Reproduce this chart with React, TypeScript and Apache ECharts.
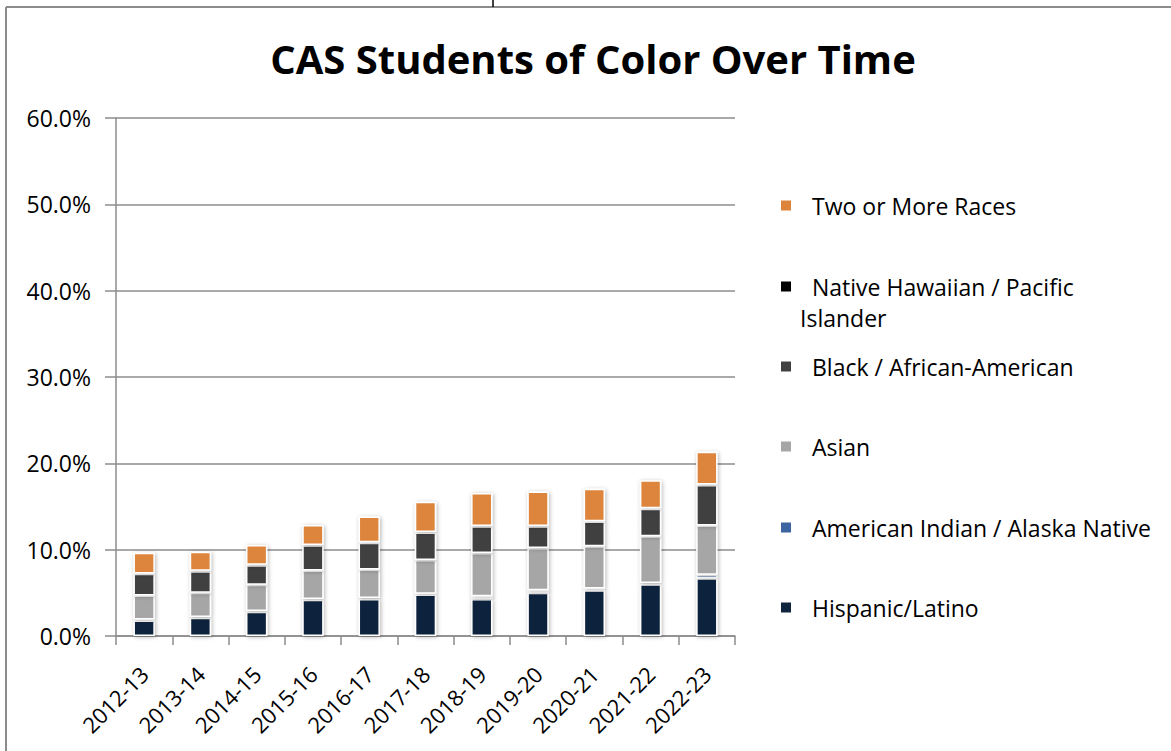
import React, { useEffect, useRef } from "react";
import * as echarts from "echarts";

const categories = ["2012-13", "2013-14", "2014-15", "2015-16", "2016-17", "2017-18", "2018-19", "2019-20", "2020-21", "2021-22", "2022-23"];
const hispanic = [1.8, 2.1, 2.8, 4.2, 4.3, 4.8, 4.3, 5.0, 5.3, 6.0, 6.7];
const amIndian = [0.1, 0.1, 0.1, 0.1, 0.1, 0.1, 0.3, 0.3, 0.2, 0.15, 0.4];
const asian = [2.8, 2.8, 3.05, 3.3, 3.3, 3.9, 5.0, 4.9, 4.9, 5.4, 5.7];
const black = [2.5, 2.5, 2.25, 2.9, 3.1, 3.2, 3.1, 2.5, 2.85, 3.2, 4.7];
const hawaiian = [0.05, 0.05, 0.05, 0.05, 0.05, 0.05, 0.05, 0.05, 0.05, 0.05, 0.05];
const twoOrMore = [2.4, 2.2, 2.3, 2.3, 3.0, 3.5, 3.8, 4.0, 3.75, 3.25, 3.8];

const seriesNames = [
  "Hispanic/Latino",
  "American Indian / Alaska Native",
  "Asian",
  "Black / African-American",
  "Native Hawaiian / Pacific Islander",
  "Two or More Races",
];
const seriesData = [hispanic, amIndian, asian, black, hawaiian, twoOrMore];
const colors = ["#10243e", "#3b64a0", "#a6a6a6", "#404040", "#000000", "#dd843c"];
const legendTops = [608, 528, 447, 367, 287, 206];

const FONT = "'Open Sans', Lato, sans-serif";

export default function App() {
  const ref = useRef<HTMLDivElement>(null);
  useEffect(() => {
    if (!ref.current) return;
    const chart = echarts.init(ref.current, undefined, { renderer: "svg" });
    chart.setOption({
      animation: false,
      textStyle: { fontFamily: FONT },
      grid: { left: 116, right: 436, top: 118, bottom: 115, containLabel: false },
      xAxis: {
        type: "category",
        data: categories,
        axisLine: { lineStyle: { color: "#8c8c8c", width: 1.5 } },
        axisTick: { show: true, length: 9, interval: 0, lineStyle: { color: "#8c8c8c", width: 1.5 } },
        axisLabel: { rotate: 45, interval: 0, fontSize: 22, color: "#000", margin: 34, fontFamily: FONT },
      },
      yAxis: {
        type: "value",
        min: 0,
        max: 60,
        interval: 10,
        axisLine: { show: true, lineStyle: { color: "#8c8c8c", width: 1.5 } },
        axisTick: { show: true, length: 11, lineStyle: { color: "#8c8c8c", width: 1.5 } },
        splitLine: { show: true, lineStyle: { color: "#8c8c8c", width: 1.5 } },
        axisLabel: { fontSize: 23, color: "#000", margin: 25, fontFamily: FONT, formatter: (v: number) => v.toFixed(1) + "%" },
      },
      legend: seriesNames.map((n, i) => ({
        data: [n],
        left: 774,
        top: legendTops[i] - 17,
        orient: "vertical",
        icon: "rect",
        itemWidth: 12,
        itemHeight: 12,
        formatter: (name: string) => (name === "Native Hawaiian / Pacific Islander" ? "Native Hawaiian / Pacific" : name),
        textStyle: { fontSize: 23, color: "#000", fontFamily: FONT, padding: [0, 0, 0, 15] },
        selectedMode: false,
      })),
      series: seriesNames.map((n, i) => ({
        name: n,
        type: "bar",
        stack: "total",
        barWidth: "38%",
        data: seriesData[i],
        itemStyle: {
          color: colors[i],
          borderColor: "#ffffff",
          borderWidth: 1.5,
          shadowBlur: 4,
          shadowColor: "rgba(0,0,0,0.3)",
          shadowOffsetX: 1,
          shadowOffsetY: 1,
        },
      })),
      graphic: [
        { type: "line", shape: { x1: 6, y1: 7, x2: 6, y2: 751 }, style: { stroke: "#8c8c8c", lineWidth: 2 } },
        { type: "line", shape: { x1: 6, y1: 7, x2: 1171, y2: 7 }, style: { stroke: "#8c8c8c", lineWidth: 2 } },
        { type: "line", shape: { x1: 493, y1: 0, x2: 493, y2: 7 }, style: { stroke: "#000", lineWidth: 1.5 } },
        {
          type: "text",
          x: 593,
          y: 58,
          style: { text: "CAS Students of Color Over Time", fontSize: 40, fontWeight: "bold", fill: "#000", fontFamily: FONT, textAlign: "center", textVerticalAlign: "middle" },
        },
        {
          type: "text",
          x: 800,
          y: 318,
          style: { text: "Islander", fontSize: 23, fill: "#000", fontFamily: FONT, textAlign: "left", textVerticalAlign: "middle" },
        },
      ],
    });
    return () => chart.dispose();
  }, []);
  return <div ref={ref} style={{ position: "fixed", left: 0, top: 0, width: 1171, height: 751, background: "#fff" }} />;
}
